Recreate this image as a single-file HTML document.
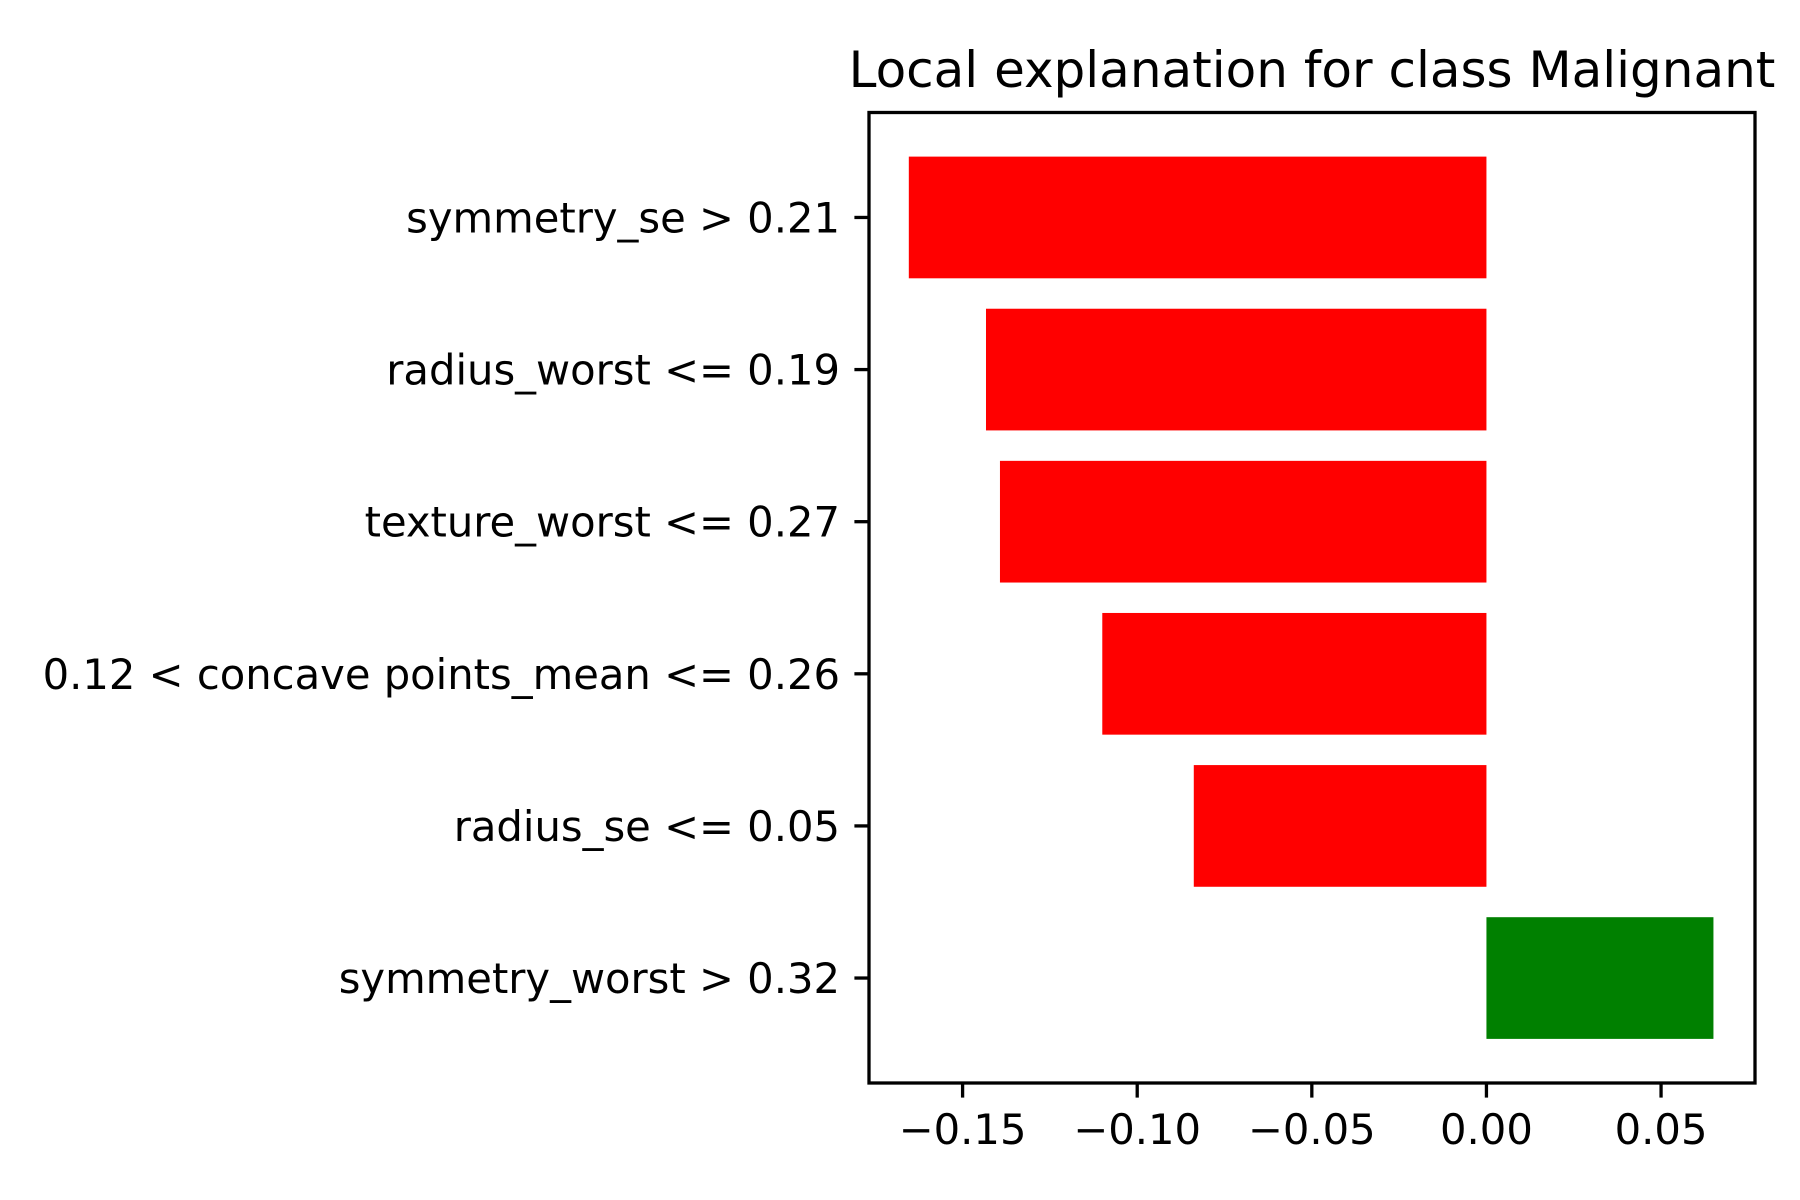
<!DOCTYPE html>
<html><head><meta charset="utf-8"><style>
html,body{margin:0;padding:0;background:#fff;}
svg{display:block;}
text{font-family:"DejaVu Sans","Liberation Sans",sans-serif;fill:#000;}
</style></head>
<body>
<svg id="chart" width="1800" height="1200" viewBox="0 0 1800 1200" xmlns="http://www.w3.org/2000/svg">
<rect x="0" y="0" width="1800" height="1200" fill="#fff"/>
<text x="1312" y="87" font-size="50" text-anchor="middle">Local explanation for class Malignant</text>
<g id="bars"></g>
<g id="yticks"></g>
<g id="xticks"></g>
<rect x="869" y="112.5" width="886" height="970.5" fill="none" stroke="#000" stroke-width="3.3"/>
</svg>
<script>
const categories = ["symmetry_worst > 0.32","radius_se <= 0.05","0.12 < concave points_mean <= 0.26","texture_worst <= 0.27","radius_worst <= 0.19","symmetry_se > 0.21"];
const values = [0.065, -0.0838, -0.110, -0.1393, -0.1433, -0.1654];
const xTickValues = [-0.15, -0.10, -0.05, 0.00, 0.05];
const xTickLabels = ["\u22120.15","\u22120.10","\u22120.05","0.00","0.05"];

const NS = "http://www.w3.org/2000/svg";
const L = 869, R = 1755, T = 112.5, B = 1083;
const xMin = -0.1768, xMax = 0.0769;
const yMin = -0.69, yMax = 5.69;
function xs(v){ return L + (v - xMin) / (xMax - xMin) * (R - L); }
function ys(v){ return B - (v - yMin) / (yMax - yMin) * (B - T); }
function mk(tag, attrs){ const e = document.createElementNS(NS, tag); for (const k in attrs) e.setAttribute(k, attrs[k]); return e; }

const gb = document.getElementById('bars');
const gy = document.getElementById('yticks');
const gx = document.getElementById('xticks');
const bh = ys(0) - ys(0.8);
values.forEach((v, i) => {
  const x0 = xs(Math.min(0, v)), x1 = xs(Math.max(0, v));
  const r = mk('rect', {x: x0, y: ys(i + 0.4), width: x1 - x0, height: bh, fill: v < 0 ? '#ff0000' : '#008000'});
  
  
  gb.appendChild(r);
  const tk = mk('line', {x1: L - 14.6, x2: L, y1: ys(i), y2: ys(i), stroke: '#000', 'stroke-width': 3.3});
  
  
  gy.appendChild(tk);
  const t = mk('text', {x: L - 29, y: ys(i) + 15, 'font-size': 41.7, 'text-anchor': 'end'});
  t.textContent = categories[i];
  
  
  gy.appendChild(t);
});
xTickValues.forEach((v, i) => {
  const tk = mk('line', {x1: xs(v), x2: xs(v), y1: B, y2: B + 14.6, stroke: '#000', 'stroke-width': 3.3});
  
  
  gx.appendChild(tk);
  const t = mk('text', {x: xs(v), y: 1144, 'font-size': 41.7, 'text-anchor': 'middle'});
  t.textContent = xTickLabels[i];
  
  
  gx.appendChild(t);
});
</script>
</body></html>
